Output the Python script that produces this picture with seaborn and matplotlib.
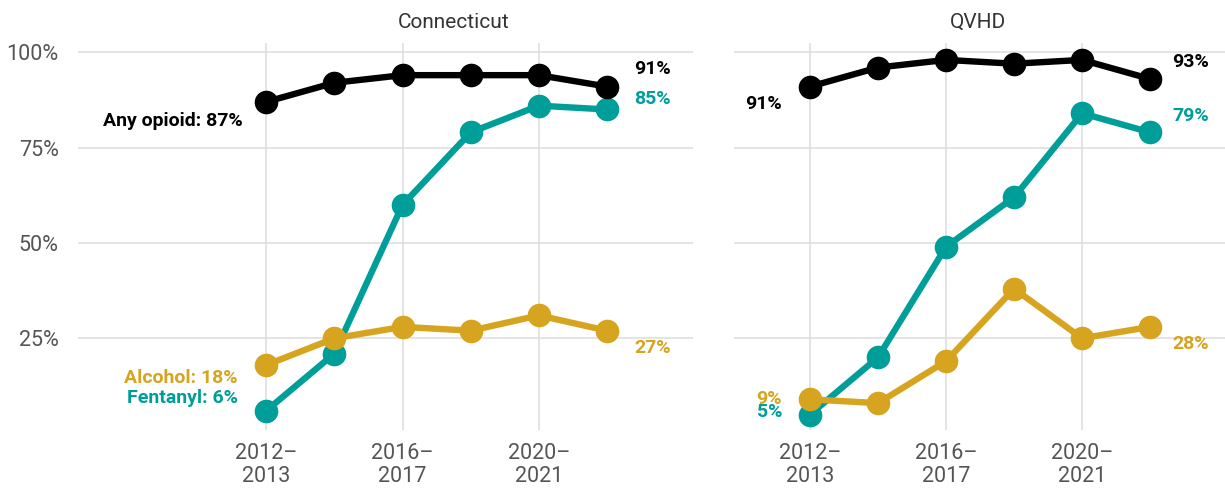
"""
Share of overdose deaths involving opioids, fentanyl and alcohol:
Connecticut vs QVHD, two-year periods
"""
import pandas as pd
import numpy as np
import matplotlib.pyplot as plt
import seaborn as sns

# periods (two-year windows)
periods = ['2012–2013', '2014–2015', '2016–2017', '2018–2019', '2020–2021', '2022–2023']

# Connecticut values (%)
ct_any = [87, 92, 94, 94, 94, 91]
ct_fentanyl = [6, 21, 60, 79, 86, 85]
ct_alcohol = [18, 25, 28, 27, 31, 27]

# QVHD values (%)
qv_any = [91, 96, 98, 97, 98, 93]
qv_fentanyl = [5, 20, 49, 62, 84, 79]
qv_alcohol = [9, 8, 19, 38, 25, 28]

colors = {'Fentanyl': '#009E99', 'Alcohol': '#D6A41E', 'Any opioid': '#000000'}


def long_frame(any_vals, fent_vals, alc_vals):
    rows = []
    for name, vals in [('Fentanyl', fent_vals), ('Alcohol', alc_vals), ('Any opioid', any_vals)]:
        for i, v in enumerate(vals):
            rows.append({'x': i, 'period': periods[i], 'measure': name, 'pct': v})
    return pd.DataFrame(rows)


ct_df = long_frame(ct_any, ct_fentanyl, ct_alcohol)
qv_df = long_frame(qv_any, qv_fentanyl, qv_alcohol)

sns.set_theme(style='white')
plt.rcParams['font.family'] = ['Roboto', 'DejaVu Sans']

fig = plt.figure(figsize=(12.25, 4.9), dpi=100)
ax1 = fig.add_axes([0.0637, 0.122, 0.502, 0.790])
ax2 = fig.add_axes([0.599, 0.122, 0.401, 0.790], sharey=ax1)

for ax, df in [(ax1, ct_df), (ax2, qv_df)]:
    sns.lineplot(data=df, x='x', y='pct', hue='measure', palette=colors,
                 hue_order=['Fentanyl', 'Alcohol', 'Any opioid'],
                 marker='o', markersize=17, markeredgewidth=0,
                 linewidth=4.6, legend=False, ax=ax)
    ax.set_xticks([0, 2, 4])
    ax.set_xticklabels([periods[i].replace('–', '–\n') for i in [0, 2, 4]],
                       fontsize=15.5, color='#555555', linespacing=1.15)
    ax.set_yticks([25, 50, 75, 100])
    ax.set_ylim(0.9, 102.4)
    ax.grid(True, color='#DDDDDD', linewidth=1.1)
    ax.tick_params(axis='both', length=0, pad=9)
    ax.set_xlabel('')
    ax.set_ylabel('')
    for s in ax.spines.values():
        s.set_visible(False)

ax1.set_xlim(-2.76, 6.26)
ax2.set_xlim(-1.12, 6.1)
ax1.set_yticklabels(['25%', '50%', '75%', '100%'], fontsize=15.5, color='#555555')
ax1.tick_params(axis='y', pad=14)
plt.setp(ax2.get_yticklabels(), visible=False)

fig.text(0.3707, 0.955, 'Connecticut', ha='center', va='center', fontsize=15,
         color='#333333')
fig.text(0.7985, 0.955, 'QVHD', ha='center', va='center', fontsize=15,
         color='#333333')

lab = dict(fontsize=14, fontweight='bold', va='center')

# Connecticut labels
ax1.text(-0.35, ct_any[0] - 5, f'Any opioid: {ct_any[0]}%', color=colors['Any opioid'], ha='right', **lab)
ax1.text(-0.42, ct_alcohol[0] - 3.5, f'Alcohol: {ct_alcohol[0]}%', color=colors['Alcohol'], ha='right', **lab)
ax1.text(-0.42, ct_fentanyl[0] + 3.3, f'Fentanyl: {ct_fentanyl[0]}%', color=colors['Fentanyl'], ha='right', **lab)
ax1.text(5.4, ct_any[5] + 4.5, f'{ct_any[5]}%', color=colors['Any opioid'], ha='left', **lab)
ax1.text(5.4, ct_fentanyl[5] + 2.7, f'{ct_fentanyl[5]}%', color=colors['Fentanyl'], ha='left', **lab)
ax1.text(5.4, ct_alcohol[5] - 4.6, f'{ct_alcohol[5]}%', color=colors['Alcohol'], ha='left', **lab)

# QVHD labels
ax2.text(-0.41, qv_any[0] - 4.6, f'{qv_any[0]}%', color=colors['Any opioid'], ha='right', **lab)
ax2.text(-0.41, qv_alcohol[0] + 0.2, f'{qv_alcohol[0]}%', color=colors['Alcohol'], ha='right', **lab)
ax2.text(-0.41, qv_fentanyl[0] + 0.8, f'{qv_fentanyl[0]}%', color=colors['Fentanyl'], ha='right', **lab)
ax2.text(5.32, qv_any[5] + 4.4, f'{qv_any[5]}%', color=colors['Any opioid'], ha='left', **lab)
ax2.text(5.32, qv_fentanyl[5] + 4.2, f'{qv_fentanyl[5]}%', color=colors['Fentanyl'], ha='left', **lab)
ax2.text(5.32, qv_alcohol[5] - 4.6, f'{qv_alcohol[5]}%', color=colors['Alcohol'], ha='left', **lab)

plt.savefig('out.png', dpi=100)
